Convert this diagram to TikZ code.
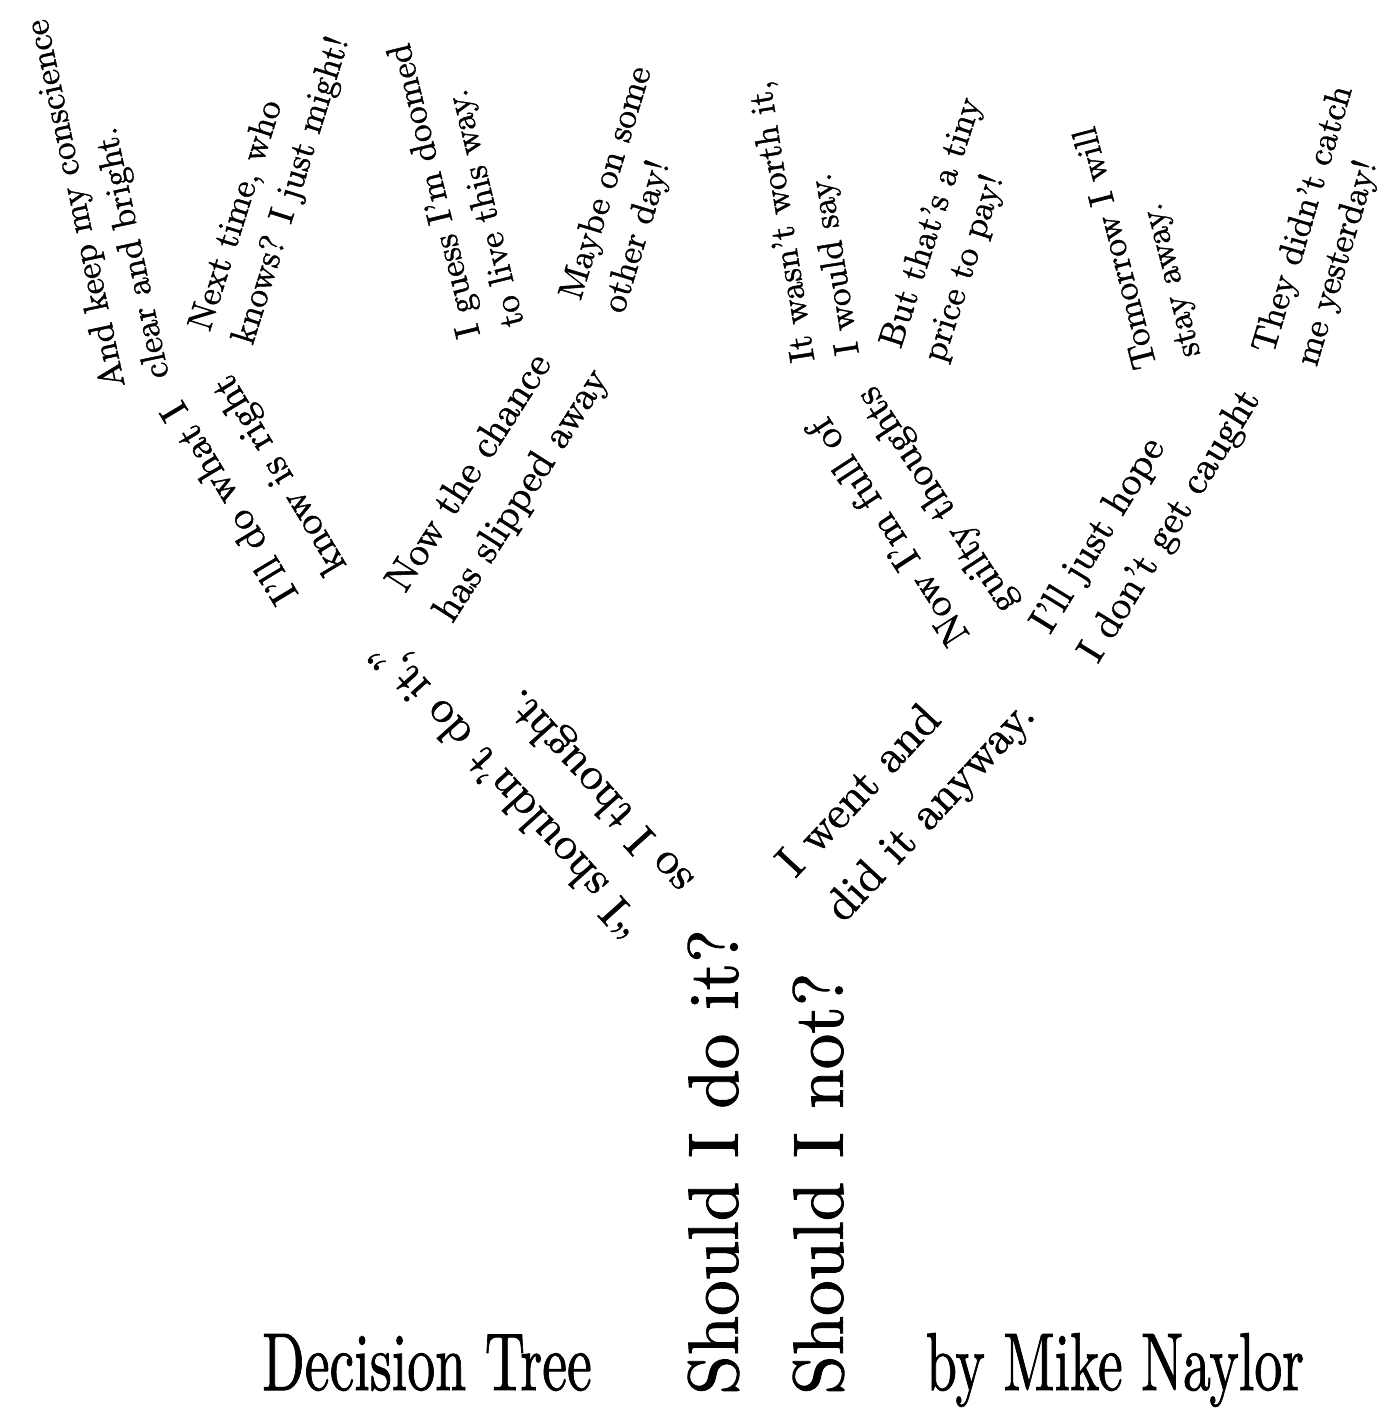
\documentclass[tikz,border=0pt]{standalone}
\usepackage{fontspec}
\setmainfont{lmroman10-regular.otf}[FakeBold=1.2]
\usepackage{tikz}

\begin{document}
\begin{tikzpicture}[x=1pt, y=-1pt,
    trunktext/.style={font=\fontsize{71}{105}\selectfont, align=left, inner sep=0pt},
    limbtext/.style={font=\fontsize{46}{66}\selectfont, align=left, inner sep=0pt},
    twigtext/.style={font=\fontsize{39.5}{56}\selectfont, align=left, inner sep=0pt},
    leaftext/.style={font=\fontsize{35.3}{45}\selectfont, align=left, inner sep=0pt},
    titletext/.style={font=\fontsize{82}{90}\selectfont, xscale=0.68, anchor=base, inner sep=0pt}]
    \path[fill=white] (0,0) rectangle (1396,1409);
    \useasboundingbox (0,0) rectangle (1396,1409);

    % Trunk
    \node[trunktext, rotate=90] (trunk) at (766,1162) {Should I do it?\\Should I not?};

    % Captions
    \node[titletext] (title) at (427,1390) {Decision Tree};
    \node[titletext] (author) at (1115,1390) {by Mike Naylor};

    % First branches
    \node[limbtext, rotate=132] (thought) at (533,765) {“I shouldn’t do it,”\\so I thought.};
    \node[limbtext, rotate=47] (went) at (908,790) {I went and\\did it anyway.};

    % Second branches
    \node[twigtext, rotate=121] (right) at (256,487) {I’ll do what I\\know is right};
    \node[twigtext, rotate=57.5] (chance) at (499,481) {Now the chance\\has slipped away};
    \node[twigtext, rotate=123] (guilty) at (914,515) {Now I’m full of\\guilty thoughts};
    \node[twigtext, rotate=58.5] (hope) at (1147,512) {I’ll just hope\\I don’t get caught};

    % Leaves
    \node[leaftext, rotate=102] (conscience) at (99,199) {And keep my conscience\\clear and bright.};
    \node[leaftext, rotate=72.5] (nexttime) at (271,184) {Next time, who\\knows? I just might!};
    \node[leaftext, rotate=103.7] (doomed) at (458,185) {I guess I’m doomed\\to live this way.};
    \node[leaftext, rotate=73] (someday) at (629,190) {Maybe on some\\other day!};
    \node[leaftext, rotate=99] (worth) at (806,218) {It wasn’t worth it,\\I would say.};
    \node[leaftext, rotate=72] (price) at (954,230) {But that’s a tiny\\price to pay!};
    \node[leaftext, rotate=104.5] (tomorrow) at (1139,242) {Tomorrow I will\\stay away.};
    \node[leaftext, rotate=73.5] (yesterday) at (1326,226) {They didn’t catch\\me yesterday!};
\end{tikzpicture}
\end{document}
